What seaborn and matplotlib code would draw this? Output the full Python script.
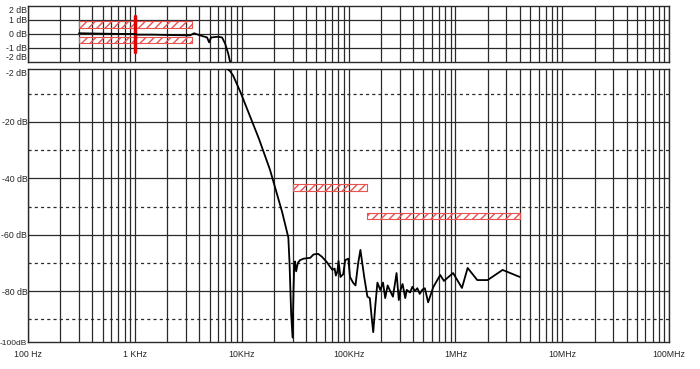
import numpy as np
import pandas as pd
import seaborn as sns
import matplotlib.pyplot as plt
from matplotlib.ticker import FixedLocator, MultipleLocator, NullFormatter

# measured response (Hz, dB)
freq = [300, 500, 800, 1000, 1050, 1500, 2200, 3000, 3290, 3580, 4070, 4740, 4950, 5170,
        6000, 6550, 7000, 7470, 7790, 8300, 9700, 14500, 18400, 23900, 27300, 28000,
        29000, 29900, 30500, 31000, 31500, 32300, 33500, 35200, 38000, 43800, 47000,
        51900, 56200, 62800, 66000, 70500, 74000, 76000, 78600, 80500, 83900, 89000,
        93000, 99500, 103000, 110000, 116000, 123000, 129000, 140000, 150000, 158000,
        165000, 170000, 178000, 186000, 198000, 210000, 220000, 232000, 245000, 260000,
        281000, 295000, 306000, 320000, 339000, 350000, 376000, 395000, 417000, 440000,
        463000, 490000, 517000, 555000, 620000, 720000, 780000, 950000, 1150000, 1300000,
        1600000, 2000000, 2760000, 4000000]
gain = [0.05, 0.02, 0.0, 0.0, -0.05, -0.05, -0.08, -0.1, -0.1, 0.05, -0.1, -0.25, -0.6,
        -0.25, -0.2, -0.25, -0.7, -1.4, -2.0, -3.5, -9.3, -26.0, -37.0, -52.0, -61.0,
        -70.0, -88.0, -96.5, -80.0, -70.5, -69.5, -73.0, -70.0, -69.0, -68.5, -68.2, -67.0,
        -66.8, -67.8, -69.8, -71.0, -72.5, -72.0, -74.5, -73.0, -69.3, -75.0, -74.0, -69.0,
        -68.5, -75.0, -77.0, -78.0, -70.0, -65.4, -75.0, -82.0, -82.5, -90.0, -94.6, -85.0,
        -77.0, -79.6, -77.0, -82.5, -78.0, -80.0, -82.0, -73.6, -83.2, -79.6, -77.5, -82.5,
        -79.6, -80.5, -78.5, -80.0, -79.0, -81.0, -79.5, -79.0, -84.0, -78.6, -74.3, -76.4,
        -73.6, -78.9, -71.8, -76.1, -76.1, -72.5, -75.0]

# limit masks
pass_lo, pass_hi = 300, 3400
upper_mask = (0.45, 0.93)
lower_mask = (-0.66, -0.2)
stop_bands = [(30000, 150000, -44.5, -42.0), (150000, 4000000, -54.4, -52.3)]

x_ticks = [1e2, 1e3, 1e4, 1e5, 1e6, 1e7, 1e8]
x_labels = ["100 Hz", "1 KHz", "10KHz", "100KHz", "1MHz", "10MHz", "100MHz"]
top_ticks = [2, 1, 0, -1, -2]
top_labels = ["2 dB", "1 dB", "0 dB", "-1 dB", "-2 dB"]
bot_range = (-98.1, -1.2)
bot_ticks = [-1.2, -20, -40, -60, -80, -98.1]
bot_labels = ["-2 dB", "-20 dB", "-40 dB", "-60 dB", "-80 dB", "-100dB"]

df = pd.DataFrame({"f": freq, "dB": gain})

sns.set_style("white")
plt.rcParams['font.family'] = ['Liberation Sans', 'DejaVu Sans']

fig = plt.figure(figsize=(7, 3.69), dpi=100)
ax1 = fig.add_axes([0.04, 0.832, 0.916, 0.152])
ax2 = fig.add_axes([0.04, 0.073, 0.916, 0.74])

minor_x = [m * 10.0 ** e for e in range(2, 8) for m in range(2, 10)]
red = "#e8534f"
grid_c = "#2a2a2a"

for ax in (ax1, ax2):
    ax.set_xscale("log")
    ax.set_xlim(100, 1e8)
    for v in x_ticks + minor_x:
        ax.axvline(v, color=grid_c, lw=0.9, zorder=1)
    for s in ax.spines.values():
        s.set_color(grid_c)
        s.set_linewidth(1.0)
    ax.xaxis.set_major_locator(FixedLocator(x_ticks))
    ax.xaxis.set_minor_locator(FixedLocator(minor_x))
    ax.xaxis.set_minor_formatter(NullFormatter())
    ax.tick_params(axis="x", which="both", length=0)
    ax.tick_params(axis="y", which="major", length=0, labelsize=6.3, pad=0.5)

# top panel: passband detail
ax1.set_ylim(-2, 2)
for v in [1, 0, -1]:
    ax1.axhline(v, color=grid_c, lw=0.9, zorder=1)
for lo, hi in (upper_mask, lower_mask):
    ax1.fill_between([pass_lo, pass_hi], lo, hi, facecolor="none", edgecolor=red,
                     hatch="////", lw=0.8, zorder=2)
ax1.plot([1000, 1000], [-1.3, 1.3], color="#e00000", lw=2.5, zorder=3)
sns.lineplot(data=df, x="f", y="dB", ax=ax1, color="black", lw=1.3, zorder=4)
ax1.set_yticks(top_ticks)
ax1.set_yticklabels(top_labels)
ax1.get_yticklabels()[0].set_va("top")
ax1.get_yticklabels()[-1].set_va("bottom")
ax1.yaxis.set_minor_locator(MultipleLocator(0.1))
ax1.tick_params(axis="y", which="minor", direction="in", length=3, width=0.6, color="black")
ax1.set_xticklabels([])

# bottom panel: full response
ax2.set_ylim(*bot_range)
for v in [-20, -40, -60, -80]:
    ax2.axhline(v, color=grid_c, lw=0.9, zorder=1)
for v in [-10, -30, -50, -70, -90]:
    ax2.axhline(v, color=grid_c, lw=0.9, ls=(0, (2.5, 2.5)), zorder=1)
for f0, f1, lo, hi in stop_bands:
    ax2.fill_between([f0, f1], lo, hi, facecolor="none", edgecolor=red,
                     hatch="////", lw=0.8, zorder=2)
sns.lineplot(data=df, x="f", y="dB", ax=ax2, color="black", lw=1.3, zorder=4)
ax2.set_yticks(bot_ticks)
ax2.set_yticklabels(bot_labels)
ax2.get_yticklabels()[0].set_va("top")
ax2.get_yticklabels()[-1].set_fontsize(6.0)
ax2.set_xticklabels(x_labels, fontsize=6.3)
ax2.tick_params(axis="x", pad=6)

for ax in (ax1, ax2):
    ax.set_xlabel("")
    ax.set_ylabel("")

fig.savefig("out.png", dpi=100)
